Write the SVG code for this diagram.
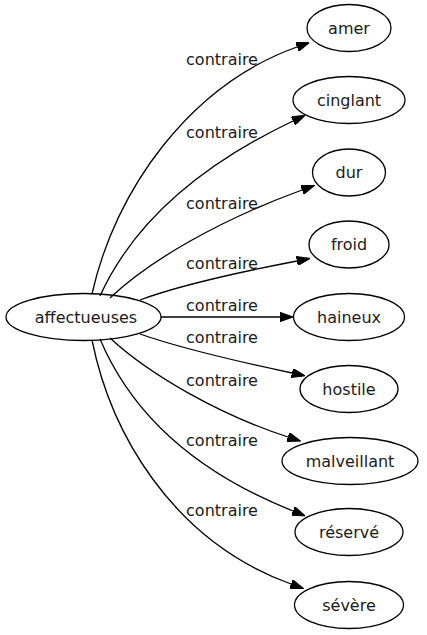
<svg xmlns="http://www.w3.org/2000/svg" width="427" height="635" viewBox="0 0 427 635">
<defs>
<marker id="ah" markerWidth="13.3" markerHeight="9.3" refX="0" refY="4.65" orient="auto" markerUnits="userSpaceOnUse" viewBox="0 0 13.3 9.3">
<path d="M0,0 L13.3,4.65 L0,9.3 Z" fill="#000" stroke="#000" stroke-width="1"/>
</marker>
<style>
.n ellipse{fill:none;stroke:#000;stroke-width:1.3}
text{font-family:"DejaVu Sans",sans-serif;font-size:16px;fill:#1a1a1a;text-anchor:middle}
.e path{fill:none;stroke:#000;stroke-width:1.3;marker-end:url(#ah)}
</style>
</defs>
<rect width="427" height="635" fill="#fff"/>
<g id="edges" class="e">
<path d="M92,294 C115,190 190,85 297,47"/>
<path d="M100,296 C130,230 190,170 293,121"/>
<path d="M110,298 C150,260 220,220 302,190"/>
<path d="M140,300 C180,285 240,272 297,261"/>
<path d="M161,317 L280,317"/>
<path d="M140,334 C180,348 240,362 292,373"/>
<path d="M110,338 C150,375 220,415 288,437"/>
<path d="M100,339 C130,410 190,470 293,511"/>
<path d="M92,340 C110,430 170,540 291,584"/>
</g>
<g id="edge-labels">
<text x="222" y="65">contraire</text>
<text x="222" y="138">contraire</text>
<text x="222" y="209">contraire</text>
<text x="222" y="269">contraire</text>
<text x="222" y="311">contraire</text>
<text x="222" y="343">contraire</text>
<text x="222" y="386">contraire</text>
<text x="222" y="446">contraire</text>
<text x="222" y="516">contraire</text>
</g>
<g id="node-affectueuses" class="n"><ellipse cx="83.5" cy="317" rx="77.5" ry="23.5"/><text x="86" y="322.5">affectueuses</text></g>
<g id="node-amer" class="n"><ellipse cx="349" cy="28" rx="42" ry="23.5"/><text x="349" y="33.5">amer</text></g>
<g id="node-cinglant" class="n"><ellipse cx="349" cy="100" rx="56" ry="23.5"/><text x="349" y="105.5">cinglant</text></g>
<g id="node-dur" class="n"><ellipse cx="349" cy="172.5" rx="36.5" ry="23.5"/><text x="349" y="178">dur</text></g>
<g id="node-froid" class="n"><ellipse cx="349" cy="244.5" rx="40" ry="23.5"/><text x="349" y="250">froid</text></g>
<g id="node-haineux" class="n"><ellipse cx="349" cy="317" rx="55.5" ry="23.5"/><text x="349" y="322.5">haineux</text></g>
<g id="node-hostile" class="n"><ellipse cx="349" cy="389" rx="49" ry="23.5"/><text x="349" y="394.5">hostile</text></g>
<g id="node-malveillant" class="n"><ellipse cx="350" cy="461" rx="68" ry="23.5"/><text x="350" y="466.5">malveillant</text></g>
<g id="node-reserve" class="n"><ellipse cx="349" cy="532" rx="54" ry="23.5"/><text x="349" y="537.5">réservé</text></g>
<g id="node-severe" class="n"><ellipse cx="349" cy="605" rx="54.5" ry="23.5"/><text x="349" y="610.5">sévère</text></g>
</svg>
